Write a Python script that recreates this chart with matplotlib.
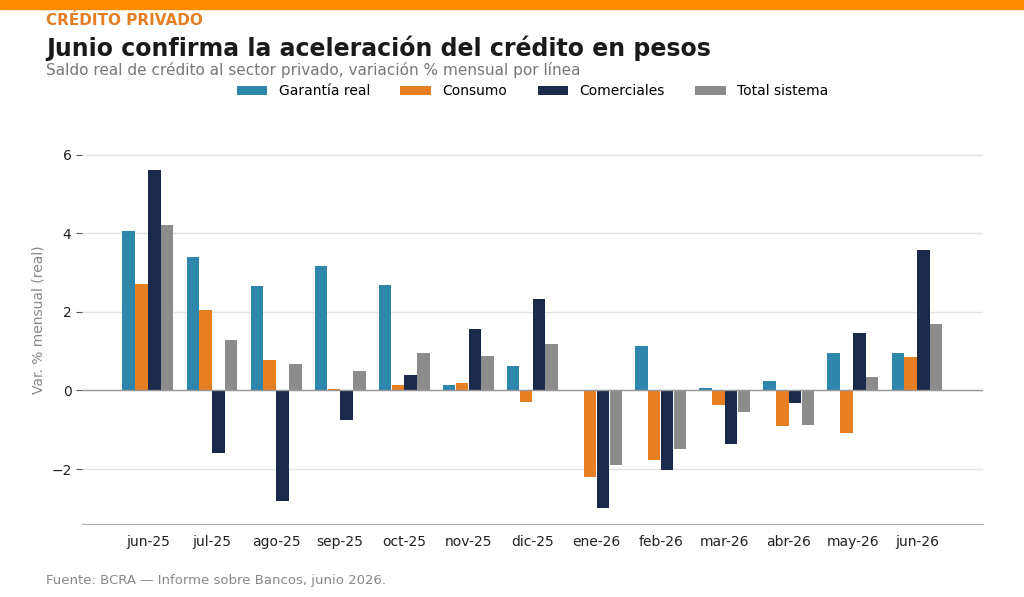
import matplotlib
matplotlib.use("Agg")
import matplotlib.pyplot as plt
import numpy as np

meses = ["jun-25", "jul-25", "ago-25", "sep-25", "oct-25", "nov-25", "dic-25",
         "ene-26", "feb-26", "mar-26", "abr-26", "may-26", "jun-26"]
garantia = [4.05, 3.4, 2.65, 3.17, 2.67, 0.15, 0.63, 0.0, 1.13, 0.07, 0.25, 0.95, 0.95]
consumo = [2.7, 2.05, 0.78, 0.03, 0.15, 0.2, -0.3, -2.2, -1.77, -0.38, -0.9, -1.08, 0.85]
comerciales = [5.6, -1.6, -2.82, -0.75, 0.4, 1.57, 2.32, -3.0, -2.02, -1.37, -0.32, 1.45, 3.58]
total = [4.2, 1.28, 0.68, 0.5, 0.95, 0.88, 1.18, -1.9, -1.5, -0.55, -0.88, 0.33, 1.7]

series = [("Garantía real", garantia, "#2E86AB"),
          ("Consumo", consumo, "#E67E22"),
          ("Comerciales", comerciales, "#1B2A4A"),
          ("Total sistema", total, "#8C8C8C")]

fig = plt.figure(figsize=(10.24, 5.97), dpi=100)
fig.patches.append(plt.Rectangle((0, 0.985), 1, 0.015, transform=fig.transFigure,
                                 color="#FF8C00", zorder=0))
ax = fig.add_axes([0.08, 0.122, 0.88, 0.685])

x = np.arange(len(meses))
w = 0.2
for i, (nombre, vals, col) in enumerate(series):
    ax.bar(x + (i - 1.5) * w, vals, w * 0.97, color=col, label=nombre, zorder=3)

ax.axhline(0, color="#999999", lw=1, zorder=4)
ax.set_xlim(-1.03, 13.03)
ax.set_ylim(-3.4, 7.0)
ax.set_yticks([-2, 0, 2, 4, 6])
ax.set_xticks(x)
ax.set_xticklabels(meses)
ax.grid(axis="y", color="#e3e3e3", lw=1, zorder=0)
for s in ["top", "right", "left"]:
    ax.spines[s].set_visible(False)
ax.spines["bottom"].set_color("#aaaaaa")
ax.tick_params(axis="x", length=0, labelsize=10, colors="#222222", pad=8)
ax.tick_params(axis="y", length=4, labelsize=10, colors="#222222", color="#555555")
ax.set_ylabel("Var. % mensual (real)", color="#888888", fontsize=10)

fig.legend(*ax.get_legend_handles_labels(), loc="center", bbox_to_anchor=(0.52, 0.847),
           ncol=4, frameon=False, fontsize=10, handlelength=2.2, handleheight=0.7,
           columnspacing=2.2)

fig.text(0.045, 0.965, "CRÉDITO PRIVADO", color="#E67E22", fontsize=11, fontweight="bold", va="center")
fig.text(0.045, 0.92, "Junio confirma la aceleración del crédito en pesos", color="#1a1a1a",
         fontsize=17, fontweight="bold", va="center")
fig.text(0.045, 0.883, "Saldo real de crédito al sector privado, variación % mensual por línea",
         color="#777777", fontsize=11, va="center")
fig.text(0.045, 0.028, "Fuente: BCRA — Informe sobre Bancos, junio 2026.", color="#888888",
         fontsize=9.5, va="center")

fig.savefig("out.png", dpi=100)
